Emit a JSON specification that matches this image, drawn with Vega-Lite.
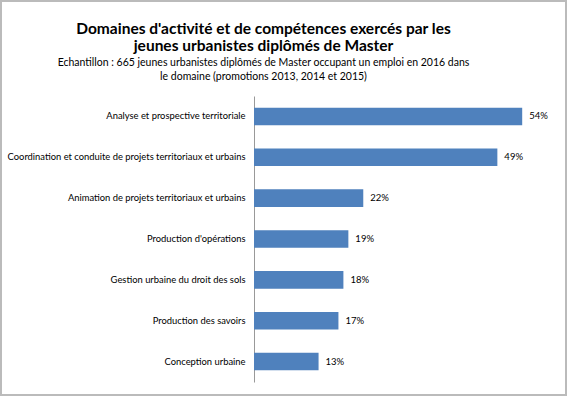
{
  "$schema": "https://vega.github.io/schema/vega-lite/v6.json",
  "autosize": {"type": "none"},
  "padding": {"left": 1, "top": 1, "right": 1, "bottom": 1},
  "width": 565,
  "height": 394,
  "background": "white",
  "title": {
    "text": ["Domaines d'activité et de compétences exercés par les", "jeunes urbanistes diplômés de Master"],
    "subtitle": ["Echantillon : 665 jeunes urbanistes diplômés de Master occupant un emploi en 2016 dans", "le domaine (promotions 2013, 2014 et 2015)"],
    "anchor": "middle",
    "orient": "top",
    "offset": -81,
    "dx": -20,
    "font": "Lato",
    "fontSize": 15.5,
    "fontWeight": "bold",
    "lineHeight": 17,
    "color": "#000000",
    "subtitleFont": "Lato",
    "subtitleFontSize": 10.5,
    "subtitleLineHeight": 14,
    "subtitleColor": "#000000",
    "subtitlePadding": 3
  },
  "config": {
    "view": {"stroke": "#bbbbbb", "strokeWidth": 2}
  },
  "data": {
    "values": [
      {"domaine": "Analyse et prospective territoriale", "pct": 0.54},
      {"domaine": "Coordination et conduite de projets territoriaux et urbains", "pct": 0.49},
      {"domaine": "Animation de projets territoriaux et urbains", "pct": 0.22},
      {"domaine": "Production d'opérations", "pct": 0.19},
      {"domaine": "Gestion urbaine du droit des sols", "pct": 0.18},
      {"domaine": "Production des savoirs", "pct": 0.17},
      {"domaine": "Conception urbaine", "pct": 0.13}
    ]
  },
  "encoding": {
    "y": {
      "field": "domaine",
      "type": "nominal",
      "sort": null,
      "scale": {"range": [95, 381], "paddingInner": 0.57, "paddingOuter": 0.285},
      "axis": {
        "title": null,
        "orient": "left",
        "offset": -253,
        "domainColor": "#999999",
        "domainWidth": 1,
        "ticks": false,
        "labelPadding": 9,
        "labelFont": "Lato",
        "labelFontSize": 9.4,
        "labelColor": "#000000",
        "labelLimit": 300
      }
    },
    "x": {
      "field": "pct",
      "type": "quantitative",
      "scale": {"domain": [0, 0.6], "range": [253, 551], "nice": false},
      "axis": null
    }
  },
  "layer": [
    {"mark": {"type": "bar", "color": "#4f81bd"}},
    {
      "mark": {"type": "text", "align": "left", "baseline": "middle", "dx": 7, "font": "Lato", "fontSize": 9.5, "color": "#000000"},
      "encoding": {"text": {"field": "pct", "type": "quantitative", "format": ".0%"}}
    }
  ]
}
